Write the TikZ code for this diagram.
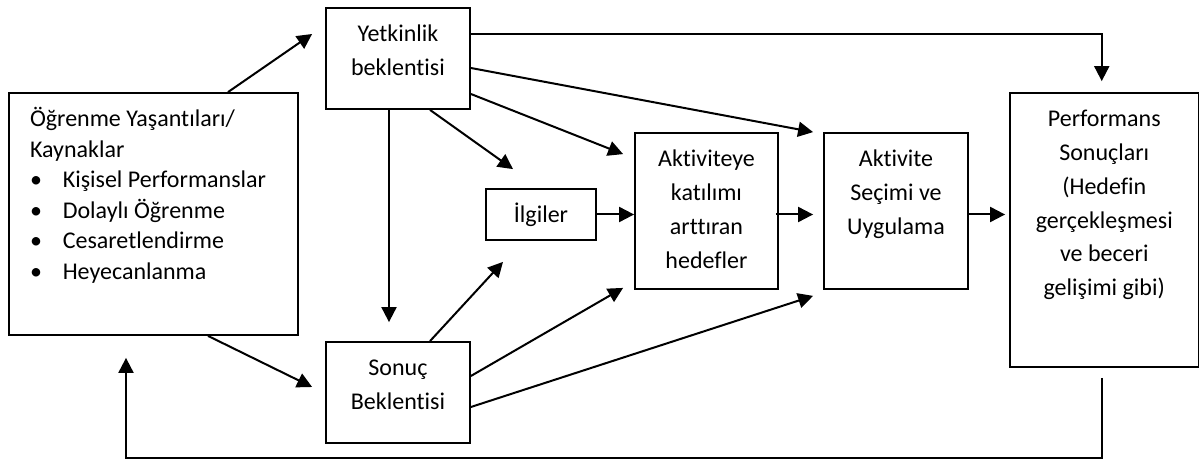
\documentclass[tikz,border=0pt]{standalone}
\usepackage{fontspec}
\setmainfont{Carlito}[Ligatures=NoCommon]
\usepackage{tikz}
\usetikzlibrary{arrows.meta}
\usetikzlibrary{positioning}

\newcommand{\boxlines}[3]{\parbox[c][#1][t]{#2}{\centering\vspace*{7pt}\rule{0pt}{10pt}#3\par}}

\tikzset{
  box/.style={draw, line width=0.9pt, inner sep=0pt, font=\fontsize{12pt}{16.85pt}\selectfont},
  arr/.style={line width=1pt, -{Triangle[length=7.5pt,width=7.5pt]}}
}

\begin{document}
\begin{tikzpicture}[x=0.5pt, y=-0.5pt]
    \useasboundingbox (0,0) rectangle (1200,459);
    \node[box] (K) at (153.5,214) {\parbox[c][121pt][t]{144.5pt}{\raggedright\leftskip=10.5pt
        \fontsize{12pt}{15.25pt}\selectfont\vspace*{7pt}\rule{0pt}{10pt}Öğrenme Yaşantıları/\\
        Kaynaklar\\
        \makebox[16.4pt][l]{\textbullet}Kişisel Performanslar\\
        \makebox[16.4pt][l]{\textbullet}Dolaylı Öğrenme\\
        \makebox[16.4pt][l]{\textbullet}Cesaretlendirme\\
        \makebox[16.4pt][l]{\textbullet}Heyecanlanma\par}};
    \node[box] (Y) at (398,58.5) {\boxlines{50.5pt}{72pt}{Yetkinlik\\beklentisi}};
    \node[box] (S) at (398,392.5) {\boxlines{50.5pt}{72pt}{Sonuç\\Beklentisi}};
    \node[box] (I) at (541,214.5) {\boxlines{25.5pt}{55pt}{İlgiler}};
    \node[box] (H) at (706.5,211) {\boxlines{78pt}{71.5pt}{Aktiviteye\\katılımı\\arttıran\\hedefler}};
    \node[box] (A) at (896,211) {\boxlines{78pt}{72pt}{Aktivite\\Seçimi ve\\Uygulama}};
    \node[box] (P) at (1104.25,230) {\boxlines{137pt}{94.25pt}{Performans\\Sonuçları\\(Hedefin\\gerçekleşmesi\\ve beceri\\gelişimi gibi)}};

    \draw[arr] ([xshift=37.25pt]K.north) -- ([xshift=-6.5pt,yshift=12.25pt]Y.west);
    \draw[arr] ([xshift=27.25pt]K.south) -- ([xshift=-6.5pt,yshift=2.75pt]S.west);
    \draw[arr] ([xshift=-4.5pt]Y.south) -- ([xshift=-4.5pt,yshift=9.5pt]S.north);
    \draw[arr] ([xshift=16pt]Y.south) -- ([xshift=-14pt,yshift=9.5pt]I.north);
    \draw[arr] ([xshift=16pt]S.north) -- ([xshift=-19pt,yshift=-10.5pt]I.south);
    \draw[arr] ([yshift=-17.75pt]Y.east) -- ([xshift=-5.5pt,yshift=-11pt]H.north west);
    \draw[arr] ([yshift=-4.75pt]Y.east) -- ([xshift=-5pt]A.north west);
    \draw[arr] ([yshift=12.25pt]Y.east) -| ([xshift=-1.25pt,yshift=5.5pt]P.north);
    \draw[arr] ([yshift=8.25pt]S.east) -- ([xshift=-5.5pt,yshift=1pt]H.south west);
    \draw[arr] ([yshift=-7.25pt]S.east) -- ([xshift=-5pt,yshift=-3pt]A.south west);
    \draw[arr] (I.east) -- (I.east -| H.west);
    \draw[arr, shorten >=5pt] ([xshift=-1.5pt]H.east |- I.east) -- (A.west |- I.east);
    \draw[arr, shorten >=2pt] (A.east |- I.east) -- (P.west |- I.east);
    % geri besleme
    \draw[arr] ([xshift=-1.25pt,yshift=-5pt]P.south) -- ++(0,-40pt) -| ([xshift=-13.75pt,yshift=-11pt]K.south);
\end{tikzpicture}
\end{document}
